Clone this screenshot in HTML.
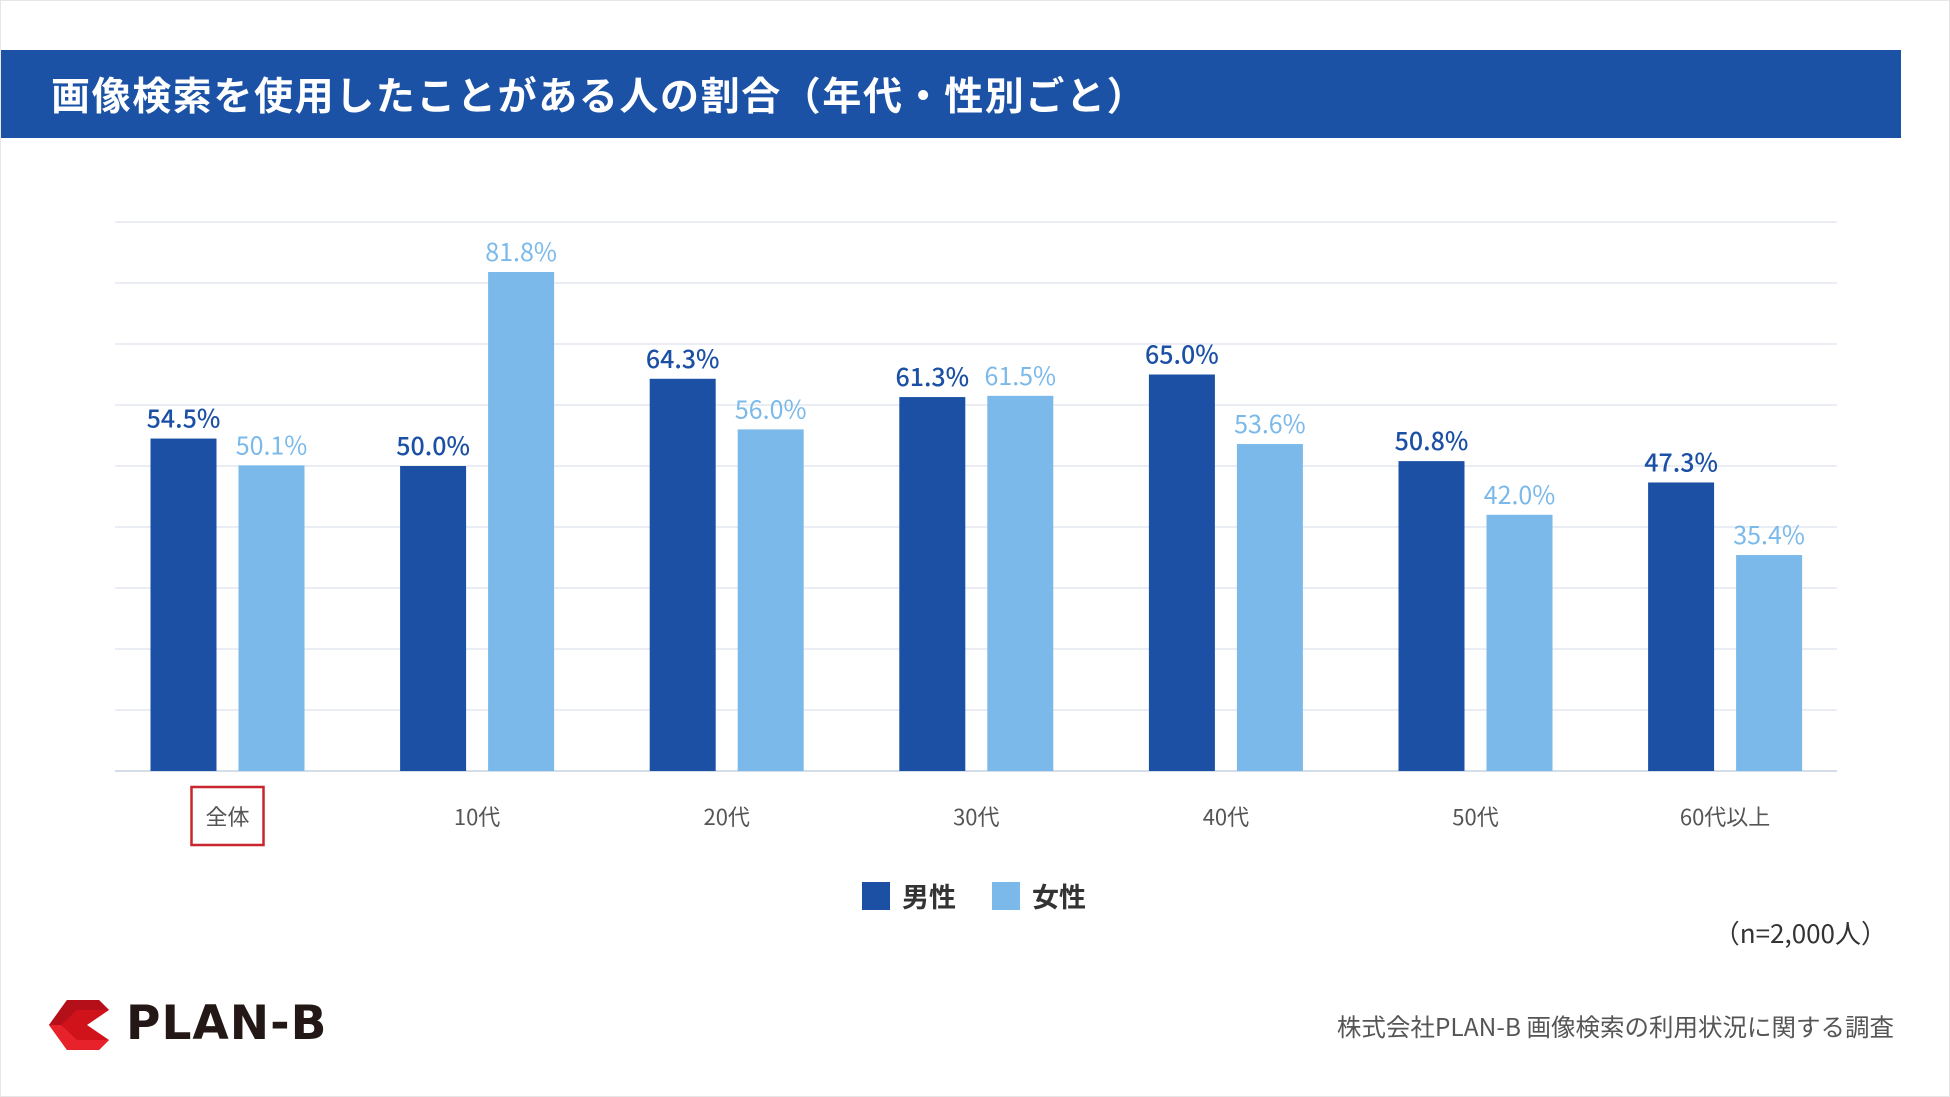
<!DOCTYPE html>
<html><head><meta charset="utf-8"><style>
body{margin:0;background:#fff;}
#page{position:relative;width:1950px;height:1097px;overflow:hidden;background:#fff;font-family:"Liberation Sans","Noto Sans CJK JP",sans-serif;box-sizing:border-box;border:1px solid #e6e6e6;}
</style></head><body>
<div id="page">
<div style="position:absolute;left:0;top:49px;width:1900px;height:88px;background:#1b52a6;"></div>
<div style="position:absolute;left:50px;top:66px;color:#fff;font-family:'Noto Sans CJK JP',sans-serif;font-weight:bold;font-size:39px;line-height:54px;letter-spacing:1.6px;white-space:nowrap;">画像検索を使用したことがある人の割合（年代・性別ごと）</div>
<svg id="chart" width="1950" height="1097" style="position:absolute;left:0;top:0;" xmlns="http://www.w3.org/2000/svg"></svg>
<div style="position:absolute;right:62px;top:913px;font-family:'Noto Sans CJK JP',sans-serif;font-size:26px;color:#333;">（n=2,000人）</div>
<svg width="62" height="50" style="position:absolute;left:48px;top:999px;" viewBox="0 0 62 50">
<polygon points="18,0 50,0 60,10 38,25 60,40 50,50 18,50 0,25" fill="#d0121b"/>
<polygon points="18,0 50,0 60,10 28,10 12,25 0,25" fill="#b5101a"/>
<polygon points="0,25 12,25 28,40 60,40 50,50 18,50" fill="#e8222a"/>
</svg>
<div style="position:absolute;left:125px;top:995px;font-family:'DejaVu Sans',sans-serif;font-weight:bold;font-size:47px;letter-spacing:1px;color:#231815;">PLAN-B</div>
<div style="position:absolute;right:55px;top:1008px;font-family:'Noto Sans CJK JP',sans-serif;font-size:24.5px;color:#555;">株式会社PLAN-B 画像検索の利用状況に関する調査</div>
</div>
<script>
const categories=["全体","10代","20代","30代","40代","50代","60代以上"];
const maleValues=[54.5,50.0,64.3,61.3,65.0,50.8,47.3];
const femaleValues=[50.1,81.8,56.0,61.5,53.6,42.0,35.4];
const gridTicks=[0,10,20,30,40,50,60,70,80,90];
const seriesNames=["男性","女性"];
const NS="http://www.w3.org/2000/svg";
const svg=document.getElementById('chart');
const baseY=770, pxPer=6.1, x0=114, x1=1836, groupW=249.6, firstMale=149.5, barW=66, gap=88;
function y(v){return baseY-v*pxPer;}
function gx(i){return firstMale+i*groupW;}
function mk(t,a){const e=document.createElementNS(NS,t);for(const k in a)e.setAttribute(k,a[k]);svg.appendChild(e);return e;}
gridTicks.forEach(t=>{
 const l=mk('line',{x1:x0,x2:x1,y1:y(t),y2:y(t),stroke:t===0?'#d5dde8':'#e3e9f1','stroke-width':t===0?2:1.5});
 
 
});
const fonts="'Noto Sans CJK JP',sans-serif";
categories.forEach((c,i)=>{
 [[maleValues,'#1b50a5',0,'male'],[femaleValues,'#7ab9ea',gap,'female']].forEach(([arr,col,off,nm])=>{
  const v=arr[i];
  const r=mk('rect',{x:gx(i)+off,y:y(v),width:barW,height:v*pxPer,fill:col});
  
  
  const t=mk('text',{x:gx(i)+off+barW/2,y:y(v)-11,'text-anchor':'middle','font-size':25,'font-family':fonts,'font-weight':nm==='male'?500:400,fill:col});
  t.textContent=v.toFixed(1)+'%';
  
  
 });
 const cx=gx(i)+(gap+barW)/2;
 const ct=mk('text',{x:cx,y:824,'text-anchor':'middle','font-size':22,'font-family':fonts,fill:'#555'});
 ct.textContent=c;
 
 
 if(i===0){
  const b=mk('rect',{x:cx-36,y:786,width:72,height:58,fill:'none',stroke:'#c8252c','stroke-width':2.5});
  
  
 }
});
[[861,'#1b50a5'],[991,'#7ab9ea']].forEach(([lx,col],k)=>{
 const s=mk('rect',{x:lx,y:881,width:28,height:28,fill:col});
 
 
 const t=mk('text',{x:lx+40,y:906,'font-size':27,'font-weight':'bold','font-family':fonts,fill:'#333'});
 t.textContent=seriesNames[k];
 
 
});
</script>
</body></html>
